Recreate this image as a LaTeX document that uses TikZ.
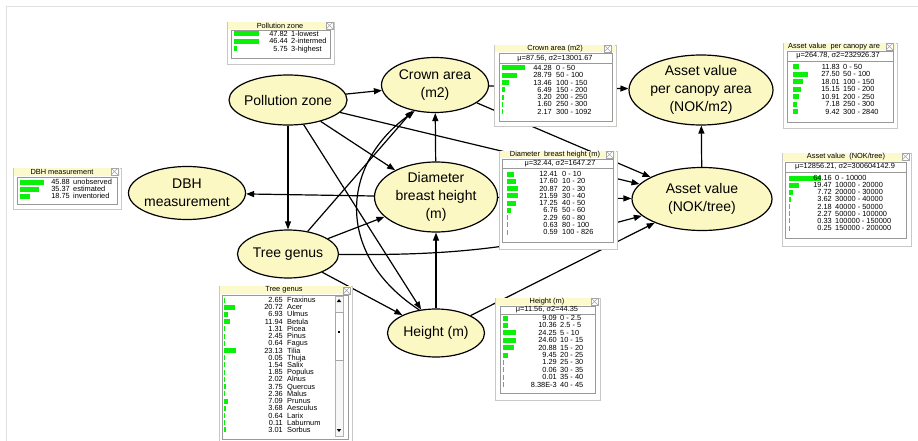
\documentclass[tikz,border=0pt]{standalone}
\usepackage{fontspec}
\setmainfont{Liberation Sans}
\newfontfamily\monfont{Liberation Sans}
\usetikzlibrary{shapes.geometric,arrows.meta}
\definecolor{nodeyellow}{RGB}{252,248,196}
\definecolor{titleyellow}{RGB}{252,250,205}
\definecolor{bargreen}{RGB}{10,240,10}
\definecolor{frameline}{RGB}{200,200,196}
\begin{document}
\begin{tikzpicture}
  [x=1pt,y=-1pt,
   var/.style={ellipse,draw=black,fill=nodeyellow,line width=1.2pt,inner sep=-4pt,align=center,font=\fontsize{14}{18}\selectfont},
   link/.style={line width=1.2pt,-{Triangle[length=8pt,width=6pt]}},
   mouter/.style={draw=frameline,fill=white,line width=0.8pt},
   mtitle/.style={fill=titleyellow},
   minner/.style={draw=gray!80,line width=0.5pt},
   mtxt/.style={inner sep=0pt,font=\monfont\fontsize{7.4}{7.4}\selectfont},
   num/.style={mtxt,anchor=base east},
   lab/.style={mtxt,anchor=base west},
   pbar/.style={fill=bargreen},
   closebox/.style={draw=gray!70,fill=white,line width=0.4pt},
   xmark/.style={draw=gray!70,line width=0.4pt}]
  \useasboundingbox (0,0) rectangle (918,441);
  \fill[white] (0,0) rectangle (918,441);
  \draw[gray!25,line width=1pt] (6,441) -- (6,7) -- (918,7);

  % variables
  \node[var,minimum width=118pt,minimum height=50pt] (pz) at (288,100) {Pollution zone};
  \node[var,minimum width=107pt,minimum height=55pt] (crown) at (435,85) {Crown area\\(m2)};
  \node[var,minimum width=144pt,minimum height=70pt] (avc) at (701,90) {Asset value\\per canopy area\\(NOK/m2)};
  \node[var,minimum width=117pt,minimum height=53pt] (dbh) at (187,193) {DBH\\measurement};
  \node[var,minimum width=123pt,minimum height=70pt] (diam) at (436,197) {Diameter\\breast height\\(m)};
  \node[var,minimum width=140pt,minimum height=63pt] (av) at (702,199) {Asset value\\(NOK/tree)};
  \node[var,minimum width=101pt,minimum height=48pt] (genus) at (288,254) {Tree genus};
  \node[var,minimum width=97pt,minimum height=48pt] (height) at (436,333) {Height (m)};

  % links
  \foreach \from/\to in {pz/crown,pz/genus,pz/diam,pz/height,pz/av,crown/avc,crown/av,
      diam/crown,diam/dbh,diam/av,height/diam,height/av,genus/crown,genus/diam,genus/height,av/avc}
    \draw[link] (\from) -- (\to);
  \draw[link] (genus) to[bend right=8] (av);
  \draw[link] (height.126) .. controls (335,255) and (340,165) .. (crown.232);

  % Pollution zone monitor
  \draw[mouter] (227,22) rectangle (334,64);
  \fill[mtitle] (228,22) rectangle (333,29);
  \node[mtxt] (pzT) at (280,25.5) {Pollution zone};
  \draw[closebox] (326,22) rectangle (333,29);
  \draw[xmark] (326,22) -- (333,29) (326,29) -- (333,22);
  \draw[minner] (231,30) rectangle (330,58);
  \foreach \p/\s [count=\i from 0] in {47.82/1-lowest,46.44/2-intermed,5.75/3-highest}{
    \fill[pbar] (234,{31.5+7.5*\i}) rectangle ++({max(0.8,0.53*\p)},5);
    \node[num] (pzN\i) at (288,{36.5+7.5*\i}) {\p};
    \node[lab] (pzL\i) at (291,{36.5+7.5*\i}) {\s};
  }

  % Crown area monitor
  \draw[mouter] (494,45) rectangle (616,126);
  \fill[mtitle] (495,45) rectangle (615,52);
  \node[mtxt] (crownT) at (555,48.5) {Crown area (m2)};
  \draw[closebox] (604,45) rectangle (611,52);
  \draw[xmark] (604,45) -- (611,52) (604,52) -- (611,45);
  \draw[minner] (499,53) rectangle (612,121);
  \node[mtxt] (crownS) at (555,58.5) {μ=87.56, σ2=13001.67};
  \draw[minner] (499,63) -- (612,63);
  \foreach \p/\s [count=\i from 0] in {44.28/0 - 50,28.79/50 - 100,13.46/100 - 150,6.49/150 - 200,
      3.20/200 - 250,1.60/250 - 300,2.17/300 - 1092}{
    \fill[pbar] (502,{65.5+7.3*\i}) rectangle ++({max(0.8,0.53*\p)},5);
    \node[num] (crownN\i) at (552,{70.5+7.3*\i}) {\p};
    \node[lab] (crownL\i) at (556,{70.5+7.3*\i}) {\s};
  }

  % Asset value per canopy area monitor
  \draw[mouter] (783,43) rectangle (897,128);
  \fill[mtitle] (784,43) rectangle (896,50);
  \node[mtxt,anchor=west] (avcT) at (788,46.5) {Asset value\ \ per canopy are};
  \draw[closebox] (886,43) rectangle (893,50);
  \draw[xmark] (886,43) -- (893,50) (886,50) -- (893,43);
  \draw[minner] (787,51) rectangle (893,122);
  \node[mtxt] (avcS) at (838,56) {μ=264.78, σ2=232926.37};
  \draw[minner] (787,61) -- (893,61);
  \foreach \p/\s [count=\i from 0] in {11.83/0 - 50,27.50/50 - 100,18.01/100 - 150,15.15/150 - 200,
      10.91/200 - 250,7.18/250 - 300,9.42/300 - 2840}{
    \fill[pbar] (793,{64.5+7.5*\i}) rectangle ++({max(0.8,0.53*\p)},5);
    \node[num] (avcN\i) at (840,{69.5+7.5*\i}) {\p};
    \node[lab] (avcL\i) at (843,{69.5+7.5*\i}) {\s};
  }

  % DBH measurement monitor
  \draw[mouter] (13,168) rectangle (121,209);
  \fill[mtitle] (14,168) rectangle (120,176);
  \node[mtxt] (dbhT) at (62,172) {DBH measurement};
  \draw[closebox] (111,168) rectangle (118,175);
  \draw[xmark] (111,168) -- (118,175) (111,175) -- (118,168);
  \draw[minner] (17,177) rectangle (117,204);
  \foreach \p/\s [count=\i from 0] in {45.88/unobserved,35.37/estimated,18.75/inventoried}{
    \fill[pbar] (20,{179.5+7*\i}) rectangle ++({max(0.8,0.53*\p)},5);
    \node[num] (dbhN\i) at (70,{184.5+7*\i}) {\p};
    \node[lab] (dbhL\i) at (73,{184.5+7*\i}) {\s};
  }

  % Diameter breast height monitor
  \draw[mouter] (499,151) rectangle (617,249);
  \fill[mtitle] (500,151) rectangle (616,158);
  \node[mtxt] (diamT) at (555,154.5) {Diameter\ \ breast height (m)};
  \draw[closebox] (606,151) rectangle (613,158);
  \draw[xmark] (606,151) -- (613,158) (606,158) -- (613,151);
  \draw[minner] (502,159) rectangle (613,242);
  \node[mtxt] (diamS) at (560,163.5) {μ=32.44, σ2=1647.27};
  \draw[minner] (502,168) -- (613,168);
  \foreach \p/\s [count=\i from 0] in {12.41/0 - 10,17.60/10 - 20,20.87/20 - 30,21.59/30 - 40,
      17.25/40 - 50,6.76/50 - 60,2.29/60 - 80,0.63/80 - 100,0.59/100 - 826}{
    \fill[pbar] (507,{171.5+7.25*\i}) rectangle ++({max(0.8,0.53*\p)},5);
    \node[num] (diamN\i) at (558,{176.5+7.25*\i}) {\p};
    \node[lab] (diamL\i) at (562,{176.5+7.25*\i}) {\s};
  }

  % Asset value monitor
  \draw[mouter] (782,153) rectangle (911,246);
  \fill[mtitle] (783,153) rectangle (910,161);
  \node[mtxt] (avT) at (846,157) {Asset value\ \ (NOK/tree)};
  \draw[closebox] (902,153) rectangle (909,160);
  \draw[xmark] (902,153) -- (909,160) (902,160) -- (909,153);
  \draw[minner] (785,162) rectangle (906,238);
  \node[mtxt] (avS) at (845,167) {μ=12856.21, σ2=300604142.9};
  \draw[minner] (785,172) -- (906,172);
  \foreach \p/\s [count=\i from 0] in {64.16/0 - 10000,19.47/10000 - 20000,7.72/20000 - 30000,
      3.62/30000 - 40000,2.18/40000 - 50000,2.27/50000 - 100000,0.33/100000 - 150000,0.25/150000 - 200000}{
    \fill[pbar] (789,{175.5+7.15*\i}) rectangle ++({max(0.8,0.5*\p)},5);
    \node[num] (avN\i) at (832,{180.5+7.15*\i}) {\p};
    \node[lab] (avL\i) at (835,{180.5+7.15*\i}) {\s};
  }

  % Tree genus monitor
  \draw[mouter] (219,286) rectangle (352,443);
  \fill[mtitle] (220,286) rectangle (351,294);
  \node[mtxt] (genusT) at (284,290) {Tree genus};
  \draw[closebox] (343,287) rectangle (350,294);
  \draw[xmark] (343,287) -- (350,294) (343,294) -- (350,287);
  \draw[minner] (222,295) rectangle (348,439);
  \foreach \p/\s [count=\i from 0] in {2.65/Fraxinus,20.72/Acer,6.93/Ulmus,11.94/Betula,1.31/Picea,
      2.45/Pinus,0.64/Fagus,23.13/Tilia,0.05/Thuja,1.54/Salix,1.85/Populus,2.02/Alnus,3.75/Quercus,
      2.36/Malus,7.09/Prunus,3.68/Aesculus,0.64/Larix,0.11/Laburnum,3.01/Sorbus}{
    \fill[pbar] (224,{297.5+7.22*\i}) rectangle ++({max(0.8,0.53*\p)},5);
    \node[num] (genusN\i) at (283,{302.5+7.22*\i}) {\p};
    \node[lab] (genusL\i) at (287,{302.5+7.22*\i}) {\s};
  }
  % scroll bar
  \draw[gray!60,fill=gray!6,line width=0.4pt] (335,296) rectangle (343,436);
  \draw[gray!70,fill=white,line width=0.5pt] (335,312) rectangle (343,360);
  \fill[black] (336.8,302) -- (341.2,302) -- (339,299) -- cycle;
  \fill[black] (338,331) rectangle (340,333);
  \fill[black] (336.8,429) -- (341.2,429) -- (339,432) -- cycle;

  % Height monitor
  \draw[mouter] (495,298) rectangle (600,400);
  \fill[mtitle] (496,298) rectangle (599,305);
  \node[mtxt] (heightT) at (547,301.5) {Height (m)};
  \draw[closebox] (591,298) rectangle (598,305);
  \draw[xmark] (591,298) -- (598,305) (591,305) -- (598,298);
  \draw[minner] (500,306) rectangle (595,393);
  \node[mtxt] (heightS) at (547,310) {μ=11.56, σ2=44.35};
  \draw[minner] (500,314) -- (595,314);
  \foreach \w/\p/\s [count=\i from 0] in {9.09/9.09/0 - 2.5,10.36/10.36/2.5 - 5,24.25/24.25/5 - 10,
      24.60/24.60/10 - 15,20.88/20.88/15 - 20,9.45/9.45/20 - 25,1.29/1.29/25 - 30,0.06/0.06/30 - 35,
      0.01/0.01/35 - 40,0.00838/8.38E-3/40 - 45}{
    \fill[pbar] (503,{315.5+7.4*\i}) rectangle ++({max(0.8,0.53*\w)},5);
    \node[num] (heightN\i) at (557,{320.5+7.4*\i}) {\p};
    \node[lab] (heightL\i) at (560,{320.5+7.4*\i}) {\s};
  }
\end{tikzpicture}
\end{document}
